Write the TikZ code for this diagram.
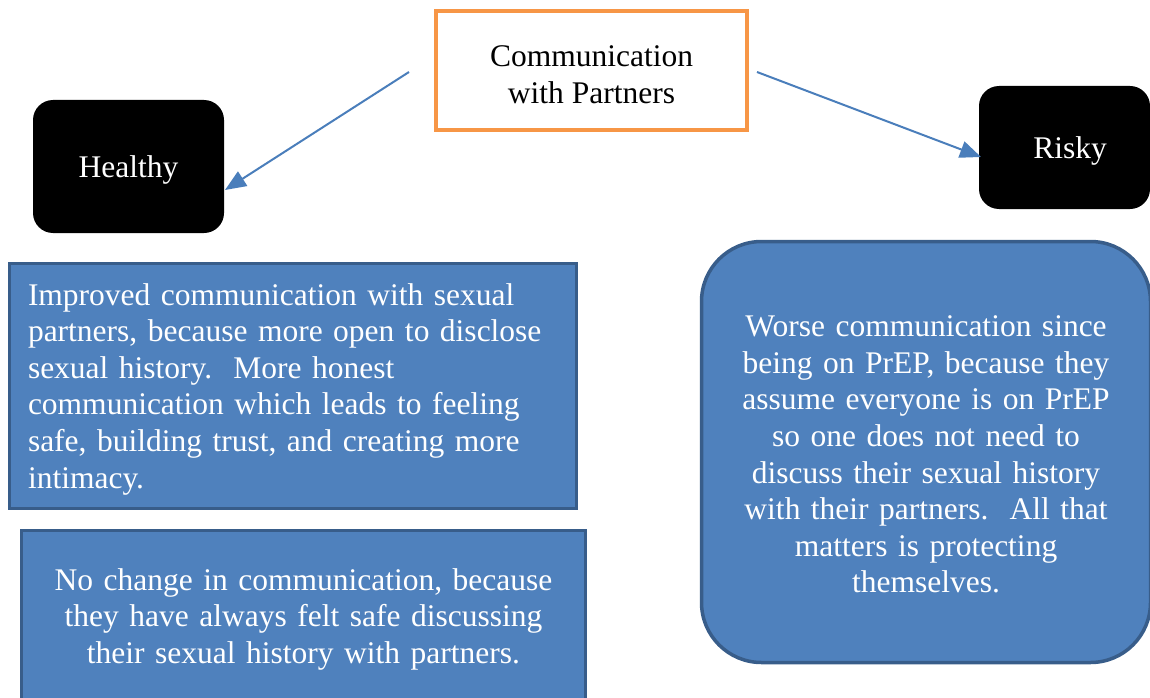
\documentclass[tikz,border=0pt]{standalone}
\usepackage{fontspec}
\setmainfont{Liberation Serif}
\newfontfamily\tnr{Liberation Serif}
\newcommand\firstln[1]{\rule{0pt}{#1}}
\usetikzlibrary{arrows.meta}
\definecolor{blueF}{HTML}{4F81BD}
\definecolor{blueD}{HTML}{385D8A}
\definecolor{orng}{HTML}{F79646}
\definecolor{arrc}{HTML}{4A7EBB}
\begin{document}
\begin{tikzpicture}[x=1pt,y=-1pt,
  txt/.style={font=\tnr\fontsize{31.5}{36.6}\selectfont, inner sep=0pt},
  topbox/.style={txt, draw=orng, line width=4pt, fill=white, align=center},
  blackbox/.style={txt, fill=black, text=white, rounded corners=20pt, text height=30pt, text depth=8pt},
  bluebox/.style={txt, draw=blueD, line width=3.5pt, fill=blueF, text=white},
  arr/.style={draw=arrc, line width=2pt, -{Triangle[length=21pt,width=17pt]}}]
\useasboundingbox (0,0) rectangle (1150,698);
\clip (0,0) rectangle (1150,698);
\node[topbox, minimum width=311pt, minimum height=119pt] (comm) at (591.5,70.5) {\firstln{29pt}Communication\\with Partners};
\node[blackbox, minimum width=191pt, minimum height=133pt] (healthy) at (128.5,166.5) {Healthy};
\node[blackbox, minimum width=171pt, minimum height=123pt] (risky) at (1064.5,147.5) {\hspace*{11pt}Risky};
\node[bluebox, minimum width=567pt, minimum height=245pt, text width=530pt, align=left] (imp) at (293,386) {\firstln{28pt}Improved communication with sexual\\partners, because more open to disclose\\sexual history.\ \ More honest\\communication which leads to feeling\\safe, building trust, and creating more\\intimacy.};
\node[bluebox, minimum width=564pt, minimum height=171pt, text width=540pt, align=center] (noch) at (303.5,616) {\firstln{28pt}No change in communication, because\\they have always felt safe discussing\\their sexual history with partners.};
\node[bluebox, rounded corners=60pt, minimum width=449pt, minimum height=421pt, text width=420pt, align=center] (worse) at (926,452) {\firstln{26pt}Worse communication since\\being on PrEP, because they\\assume everyone is on PrEP\\so one does not need to\\discuss their sexual history\\with their partners.\ \ All that\\matters is protecting\\themselves.};
\coordinate (s1) at (409,72);
\coordinate (e1) at (225,190);
\coordinate (s2) at (757,72);
\coordinate (e2) at (981,157);
\draw[arr] (s1) -- (e1);
\draw[arr] (s2) -- (e2);
\end{tikzpicture}
\end{document}
